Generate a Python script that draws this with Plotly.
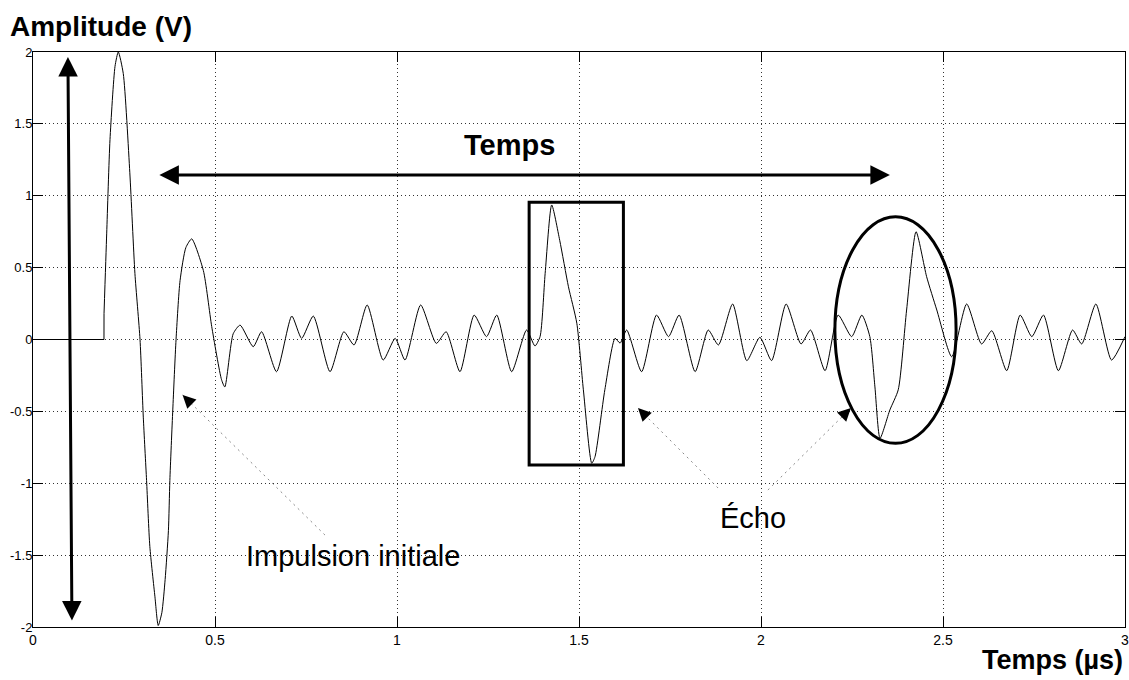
import plotly.graph_objects as go

# ---- data ----
# flat start and step of the emitted pulse (drawn with straight segments)
t_step = [0.0, 0.195, 0.1951]
v_step = [0.0, 0.0, 0.18]

# rest of the recorded signal (time in µs, amplitude in V)
t_sig = [0.1951, 0.2025, 0.2115, 0.2253, 0.2343, 0.248, 0.266, 0.280, 0.294, 0.303,
         0.312, 0.321, 0.335, 0.344, 0.354, 0.363, 0.372, 0.376, 0.384, 0.393,
         0.404, 0.420, 0.436, 0.468, 0.491, 0.518, 0.527, 0.550, 0.569, 0.605,
         0.628, 0.669, 0.711, 0.738, 0.770, 0.816, 0.854, 0.882, 0.918, 0.962,
         0.995, 1.022, 1.065, 1.108, 1.135, 1.173, 1.212, 1.246, 1.274, 1.315,
         1.356, 1.379, 1.393, 1.407, 1.425, 1.447, 1.471, 1.494, 1.512, 1.535,
         1.544, 1.571, 1.599, 1.613, 1.631, 1.672, 1.713, 1.746, 1.775, 1.819,
         1.855, 1.883, 1.922, 1.961, 1.997, 2.029, 2.069, 2.110, 2.136, 2.176,
         2.212, 2.249, 2.277, 2.299, 2.313, 2.327, 2.354, 2.377, 2.400, 2.426,
         2.455, 2.483, 2.524, 2.565, 2.606, 2.634, 2.675, 2.712, 2.744, 2.776,
         2.817, 2.856, 2.881, 2.920, 2.963, 3.0]
v_sig = [0.18, 0.74, 1.39, 1.90, 2.0, 1.85, 1.16, 0.46, 0.0, -0.54,
         -0.98, -1.44, -1.79, -1.99, -1.90, -1.67, -1.33, -0.98, -0.49, 0.0,
         0.41, 0.64, 0.70, 0.48, 0.09, -0.28, -0.33, 0.04, 0.10, -0.05,
         0.054, -0.224, 0.163, 0.008, 0.163, -0.224, 0.054, -0.038, 0.24, -0.143,
         0.008, -0.143, 0.24, -0.027, 0.054, -0.224, 0.17, 0.02, 0.17, -0.224,
         0.066, -0.045, 0.02, 0.46, 0.936, 0.69, 0.367, 0.113, -0.35, -0.861,
         -0.815, -0.35, 0.008, -0.025, 0.066, -0.224, 0.17, 0.02, 0.17, -0.224,
         0.066, -0.038, 0.247, -0.147, 0.015, -0.147, 0.247, -0.031, 0.066, -0.217,
         0.17, 0.02, 0.17, 0.02, -0.33, -0.687, -0.49, -0.35, 0.205, 0.75,
         0.437, 0.205, -0.12, 0.247, -0.031, 0.061, -0.217, 0.17, 0.02, 0.17,
         -0.217, 0.066, -0.031, 0.247, -0.143, 0.02]

x_ticks = [0, 0.5, 1, 1.5, 2, 2.5, 3]
x_labels = ["0", "0.5", "1", "1.5", "2", "2.5", "3"]
y_ticks = [-2, -1.5, -1, -0.5, 0, 0.5, 1, 1.5, 2]
y_labels = ["-2", "-1.5", "-1", "-0.5", "0", "0.5", "1", "1.5", "2"]

# annotation geometry (data coordinates)
echo_box = [1.363, 1.622, -0.873, 0.954]       # x0, x1, y0, y1
echo_ellipse = [2.203, 2.536, -0.722, 0.854]   # x0, x1, y0, y1
amp_arrow = [0.096, 1.965, 0.107, -1.965]      # x_top, y_top, x_bottom, y_bottom
time_arrow = [0.343, 2.354, 1.144]             # x_left, x_right, y
ptr_tip_x = [0.411, 1.662, 2.247]
ptr_tip_y = [-0.386, -0.477, -0.477]
ptr_tail_x = [0.802, 1.882, 2.019]
ptr_tail_y = [-1.36, -1.033, -1.047]

FONT = "Liberation Sans, Arial, Helvetica, sans-serif"
TICKFONT = "Liberation Sans Narrow, Arial Narrow, Liberation Sans, Arial, sans-serif"

fig = go.Figure()
fig.add_trace(go.Scatter(x=t_step, y=v_step, mode="lines",
                         line=dict(color="black", width=1), hoverinfo="skip"))
fig.add_trace(go.Scatter(x=t_sig, y=v_sig, mode="lines",
                         line=dict(color="black", width=1, shape="spline", smoothing=0.6),
                         hoverinfo="skip"))

# echo highlights
fig.add_shape(type="rect", xref="x", yref="y",
              x0=echo_box[0], x1=echo_box[1], y0=echo_box[2], y1=echo_box[3],
              line=dict(color="black", width=3))
fig.add_shape(type="circle", xref="x", yref="y",
              x0=echo_ellipse[0], x1=echo_ellipse[1], y0=echo_ellipse[2], y1=echo_ellipse[3],
              line=dict(color="black", width=3))

# double arrows
fig.add_annotation(x=amp_arrow[0], y=amp_arrow[1], ax=amp_arrow[2], ay=amp_arrow[3],
                   xref="x", yref="y", axref="x", ayref="y", text="",
                   showarrow=True, arrowhead=2, startarrowhead=2, arrowside="end+start",
                   arrowwidth=3, arrowsize=1.3, startarrowsize=1.3, arrowcolor="black")
fig.add_annotation(x=time_arrow[1], y=time_arrow[2], ax=time_arrow[0], ay=time_arrow[2],
                   xref="x", yref="y", axref="x", ayref="y", text="",
                   showarrow=True, arrowhead=2, startarrowhead=2, arrowside="end+start",
                   arrowwidth=3, arrowsize=1.3, startarrowsize=1.3, arrowcolor="black")

# dotted pointers with black heads
for tx, ty, lx, ly in zip(ptr_tip_x, ptr_tip_y, ptr_tail_x, ptr_tail_y):
    fig.add_shape(type="line", xref="x", yref="y", x0=lx, y0=ly, x1=tx, y1=ty,
                  line=dict(color="#8a8a8a", width=1, dash="2px,4px"))
    fig.add_annotation(x=tx, y=ty, ax=tx + 0.07 * (lx - tx), ay=ty + 0.07 * (ly - ty),
                       xref="x", yref="y", axref="x", ayref="y", text="",
                       showarrow=True, arrowhead=2, arrowwidth=1, arrowsize=2.6,
                       arrowcolor="black")

# texts
fig.add_annotation(x=1.310, y=1.353, xref="x", yref="y", text="<b>Temps</b>",
                   showarrow=False, font=dict(family=FONT, size=29, color="black"))
fig.add_annotation(x=0.879, y=-1.506, xref="x", yref="y", text="Impulsion initiale",
                   showarrow=False, font=dict(family=FONT, size=29, color="black"))
fig.add_annotation(x=1.978, y=-1.242, xref="x", yref="y", text="Écho",
                   showarrow=False, font=dict(family=FONT, size=29, color="black"))
fig.add_annotation(x=-0.0229, y=1.045, xref="paper", yref="paper", text="<b>Amplitude (V)</b>",
                   xanchor="left", yanchor="middle", showarrow=False,
                   font=dict(family=FONT, size=28, color="black"))
fig.add_annotation(x=1.0, y=-0.057, xref="paper", yref="paper", text="<b>Temps (µs)</b>",
                   xanchor="right", yanchor="middle", showarrow=False,
                   font=dict(family=FONT, size=27, color="black"))

axis_common = dict(showgrid=True, gridcolor="#333333", griddash="1px,3px", gridwidth=1,
                   showline=True, linecolor="black", linewidth=1, mirror="ticks",
                   ticks="inside", ticklen=10, tickcolor="black", tickwidth=1,
                   zeroline=False, automargin=False, ticklabeloverflow="allow")
fig.update_xaxes(range=[0, 3], tickvals=x_ticks, ticktext=x_labels,
                 tickfont=dict(family=TICKFONT, size=14, color="black"), **axis_common)
fig.update_yaxes(range=[-2, 2], tickvals=y_ticks, ticktext=y_labels, ticklabelstandoff=-3,
                 tickfont=dict(family=TICKFONT, size=13, color="black"), **axis_common)

fig.update_layout(width=1129, height=680, margin=dict(l=33, r=4, t=52, b=53, autoexpand=False),
                  plot_bgcolor="white", paper_bgcolor="white", showlegend=False,
                  font=dict(family=FONT, color="black"))

# remove the browser's default 8px body margin so the figure sits at the window origin
fig.write_html("out.html", config={"displayModeBar": False},
               post_script="document.body.style.margin='0';document.body.style.overflow='hidden';")
